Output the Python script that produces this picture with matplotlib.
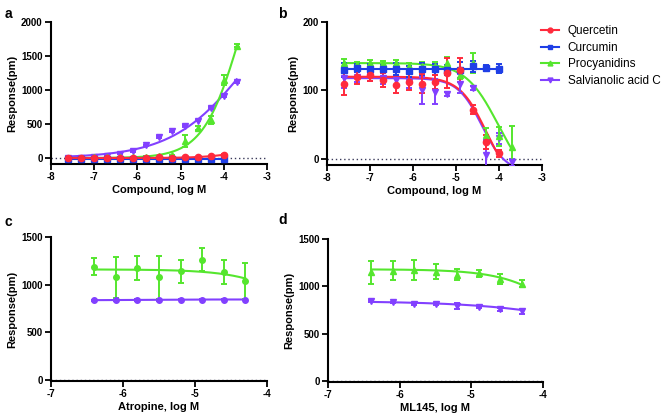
import matplotlib
matplotlib.use("Agg")
import matplotlib.pyplot as plt
import numpy as np
from matplotlib.lines import Line2D

plt.rcParams["font.family"] = ["Liberation Sans", "DejaVu Sans"]
plt.rcParams["axes.unicode_minus"] = False

# ── data ────────────────────────────────────────────────────────────────
names = ["Quercetin", "Curcumin", "Procyanidins", "Salvianolic acid C"]
colors = ["#ff2a3c", "#1f3fe6", "#55e62e", "#8240ff"]
markers = ["o", "s", "^", "v"]

# panel a / b: compound, log M
x_long = [-7.6, -7.3, -7.0, -6.7, -6.4, -6.1, -5.8, -5.5, -5.2, -4.9, -4.6, -4.3, -4.0, -3.7]
x_short = x_long[:13]

a_quercetin = [2, 0, 3, 5, 2, 0, 3, 10, 5, 8, 12, 25, 50]
a_quercetin_err = [5, 5, 5, 5, 5, 5, 5, 8, 5, 6, 6, 8, 10]
a_curcumin = [-12, -10, -8, -10, -10, -12, -10, -8, -10, -10, -12, -18, -12]
a_curcumin_err = [5, 5, 5, 5, 5, 5, 5, 5, 5, 5, 5, 6, 5]
a_procyanidins = [5, 3, 8, 10, 8, 15, 20, 25, 40, 250, 440, 560, 1150, 1650]
a_procyanidins_err = [5, 5, 5, 5, 5, 5, 8, 8, 10, 85, 25, 60, 70, 20]
a_salvianolic = [-5, 0, 8, 30, 64, 100, 187, 310, 390, 470, 550, 735, 910, 1120]
a_salvianolic_err = [5, 5, 5, 8, 8, 8, 10, 10, 10, 12, 12, 15, 15, 15]

b_quercetin = [110, 120, 122, 115, 108, 112, 110, 112, 125, 130, 72, 25, 8]
b_quercetin_err = [16, 10, 8, 10, 12, 12, 14, 10, 22, 18, 6, 10, 5]
b_curcumin = [130, 133, 131, 131, 131, 128, 131, 131, 130, 130, 135, 133, 132]
b_curcumin_err = [10, 6, 7, 6, 9, 8, 9, 8, 7, 12, 8, 4, 6]
b_procyanidins = [140, 138, 140, 140, 140, 135, 135, 135, 140, 122, 140, 35, 33, 18]
b_procyanidins_err = [6, 4, 4, 3, 4, 5, 6, 7, 9, 6, 14, 10, 14, 30]
b_salvianolic = [118, 120, 122, 118, 115, 112, 100, 98, 95, 110, 103, 5, 30, -5]
b_salvianolic_err = [14, 8, 8, 8, 8, 8, 20, 18, 3, 14, 3, 22, 8, 5]

# panel c / d: antagonist, log M
x_ant = [-6.4, -6.1, -5.8, -5.5, -5.2, -4.9, -4.6, -4.3]
c_procyanidins = [1190, 1080, 1175, 1080, 1140, 1260, 1135, 1035]
c_procyanidins_err = [85, 215, 130, 225, 120, 120, 125, 190]
c_salvianolic = [835, 838, 840, 842, 843, 844, 844, 843]
c_salvianolic_err = [8, 8, 8, 8, 8, 8, 8, 8]
d_procyanidins = [1150, 1167, 1174, 1156, 1122, 1139, 1080, 1030]
d_procyanidins_err = [122, 104, 104, 80, 57, 38, 55, 38]
d_salvianolic = [844, 830, 816, 809, 792, 784, 760, 735]
d_salvianolic_err = [12, 10, 10, 10, 30, 10, 15, 25]

# fitted curves: (bottom, top, logEC50, hill)
fit_a = [(0, 200, -3.5, 1.0), (-10, -10, -5.0, 1.0),
         (0, 3700, -3.6, 1.0), (0, 2700, -3.45, 0.5)]
fit_b = [(-40, 120, -4.3, -1.4), (131, 131, -5.0, 1.0),
         (-40, 140, -4.02, -1.15), (-20, 118, -4.4, -1.55)]
fit_c = [(0, 1160, -3.25, -1.0), (835, 845, -6.0, 1.0)]
fit_d = [(0, 1180, -3.5, -1.0), (0, 845, -2.5, -0.5)]


def four_pl(x, bottom, top, logec50, hill):
    return bottom + (top - bottom) / (1 + 10 ** ((logec50 - x) * hill))


def style_axis(ax, xlim, xticks, ylim, yticks, xlabel):
    ax.set_xlim(*xlim)
    ax.set_ylim(*ylim)
    ax.set_xticks(xticks)
    ax.set_yticks(yticks)
    for side in ("top", "right"):
        ax.spines[side].set_visible(False)
    for side in ("left", "bottom"):
        ax.spines[side].set_linewidth(1.5)
    ax.tick_params(direction="out", length=4, width=1.3, labelsize=7, pad=2)
    for lab in ax.get_xticklabels() + ax.get_yticklabels():
        lab.set_fontweight("bold")
    ax.set_xlabel(xlabel, fontsize=8, fontweight="bold", labelpad=2)
    ax.set_ylabel("Response(pm)", fontsize=8, fontweight="bold", labelpad=3)
    ax.axhline(0, color="#3a3a5a", linestyle=(0, (1, 2)), linewidth=1, zorder=1)


def draw_series(ax, xs, ys, errs, fit, color, marker, ms=4.5):
    ax.errorbar(xs, ys, yerr=errs, fmt=marker, color=color, ms=ms,
                capsize=2, elinewidth=1.4, capthick=1.4, zorder=3)
    xx = np.linspace(min(xs), max(xs), 200)
    ax.plot(xx, four_pl(xx, *fit), color=color, linewidth=1.5, zorder=2)


fig = plt.figure(figsize=(6.61, 4.17), dpi=100)
W, H = 661, 417


def add_axes(left, right, top, bottom):
    return fig.add_axes([left / W, 1 - bottom / H, (right - left) / W, (bottom - top) / H])


ax_a = add_axes(51, 267, 22, 164)
ax_b = add_axes(327, 542, 22, 165)
ax_c = add_axes(51, 267, 237, 381)
ax_d = add_axes(328, 543, 239, 382)

# ── a ──
a_sets = [(x_short, a_quercetin, a_quercetin_err), (x_short, a_curcumin, a_curcumin_err),
          (x_long, a_procyanidins, a_procyanidins_err), (x_long, a_salvianolic, a_salvianolic_err)]
for i in [3, 2, 1, 0]:
    xs, ys, es = a_sets[i]
    draw_series(ax_a, xs, ys, es, fit_a[i], colors[i], markers[i])
style_axis(ax_a, (-8, -3), range(-8, -2), (-88, 2000), [0, 500, 1000, 1500, 2000],
           "Compound, log M")

# ── b ──
b_sets = [(x_short, b_quercetin, b_quercetin_err), (x_short, b_curcumin, b_curcumin_err),
          (x_long, b_procyanidins, b_procyanidins_err), (x_long, b_salvianolic, b_salvianolic_err)]
for i in [3, 2, 1, 0]:
    xs, ys, es = b_sets[i]
    draw_series(ax_b, xs, ys, es, fit_b[i], colors[i], markers[i])
style_axis(ax_b, (-8, -3), range(-8, -2), (-9, 200), [0, 100, 200], "Compound, log M")

# ── c ──
draw_series(ax_c, x_ant, c_salvianolic, c_salvianolic_err, fit_c[1], colors[3], "o", ms=4)
draw_series(ax_c, x_ant, c_procyanidins, c_procyanidins_err, fit_c[0], colors[2], "o", ms=4)
style_axis(ax_c, (-7, -4), range(-7, -3), (-10, 1500), [0, 500, 1000, 1500], "Atropine, log M")

# ── d ──
draw_series(ax_d, x_ant, d_salvianolic, d_salvianolic_err, fit_d[1], colors[3], "v")
draw_series(ax_d, x_ant, d_procyanidins, d_procyanidins_err, fit_d[0], colors[2], "^")
style_axis(ax_d, (-7, -4), range(-7, -3), (-10, 1500), [0, 500, 1000, 1500], "ML145, log M")

# panel letters
for txt, px, py in [("a", 8, 14), ("b", 282, 14), ("c", 8, 222), ("d", 283, 220)]:
    fig.text(px / W, 1 - py / H, txt, fontsize=10, fontweight="bold", va="center", ha="center")

handles = [Line2D([], [], color=c, marker=m, ms=3.5, linewidth=1.5) for c, m in zip(colors, markers)]
fig.legend(handles, names, loc="upper left", bbox_to_anchor=(541 / W, 1 - 25 / H),
           frameon=False, fontsize=8.5, handlelength=1.5, handletextpad=0.75,
           labelspacing=0.4, borderpad=0, borderaxespad=0)

fig.savefig("out.png", dpi=100)
